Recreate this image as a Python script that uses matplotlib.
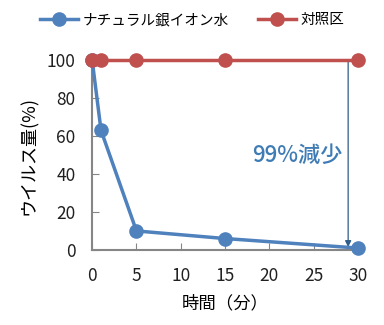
import matplotlib
matplotlib.use("Agg")
import matplotlib.pyplot as plt

plt.rcParams['font.family'] = ['Noto Sans CJK JP', 'DejaVu Sans']

minutes = [0, 1, 5, 15, 30]
silver_water = [100, 63, 10, 6, 1]
control = [100, 100, 100, 100, 100]
x_ticks = [0, 5, 10, 15, 20, 25, 30]
y_ticks = [0, 20, 40, 60, 80, 100]

blue = "#4F81BD"
red = "#C0504D"
gray = "#868686"

fig = plt.figure(figsize=(3.84, 3.25), dpi=100)
ax = fig.add_axes([0.240, 0.231, 0.692, 0.584])

ax.plot(minutes, silver_water, color=blue, lw=2.5, marker="o", ms=9.5,
        label="ナチュラル銀イオン水", clip_on=False, zorder=3)
ax.plot(minutes, control, color=red, lw=2.5, marker="o", ms=9.5,
        label="対照区", clip_on=False, zorder=3)

ax.annotate("", xy=(28.9, 1.5), xytext=(28.9, 100),
            arrowprops=dict(arrowstyle="-|>", color="#2E5C8A", lw=0.9,
                            mutation_scale=9, shrinkA=0, shrinkB=0), zorder=2)
ax.text(28.3, 50, "99%減少", color="#3F7CB5", fontsize=16, fontweight="medium",
        ha="right", va="center")

ax.set_xlim(0, 30)
ax.set_ylim(0, 100)
ax.set_xticks(x_ticks)
ax.set_yticks(y_ticks)
ax.tick_params(direction="in", length=5, color=gray, labelsize=12.5,
               labelcolor="#202020", pad=12)
for side in ["top", "right"]:
    ax.spines[side].set_visible(False)
for side in ["left", "bottom"]:
    ax.spines[side].set_color(gray)
    ax.spines[side].set_linewidth(1.5)

ax.set_xlabel("時間（分）", fontsize=12.5, labelpad=7)
ax.set_ylabel("ウイルス量(%)", fontsize=13, labelpad=6)

fig.legend(loc="upper center", bbox_to_anchor=(0.5, 1.0), ncol=2, frameon=False,
           fontsize=10.5, handlelength=2.6, columnspacing=2.0, handletextpad=0.3)

fig.savefig("out.png", dpi=100)
